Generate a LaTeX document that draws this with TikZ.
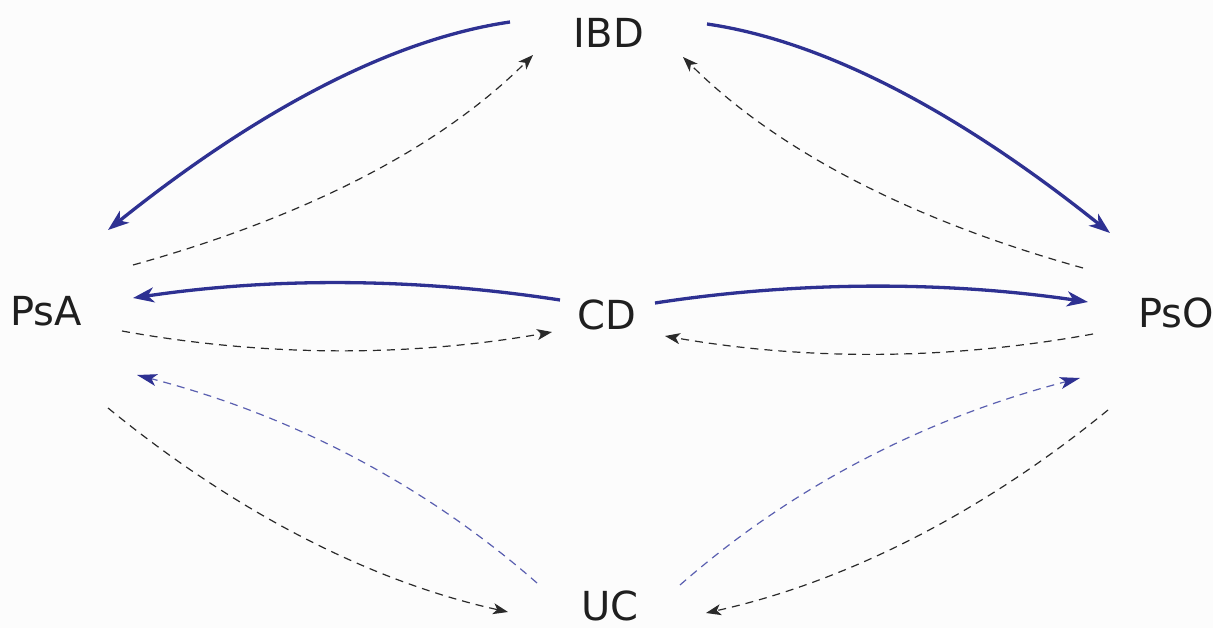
\documentclass[tikz,border=0pt]{standalone}
\usepackage{fontspec}
\setmainfont{DejaVu Sans}
\usetikzlibrary{arrows.meta}
\definecolor{navy}{HTML}{2E3192}
\definecolor{lightnavy}{HTML}{5A5FB0}
\definecolor{dgray}{HTML}{2A2A2A}
\definecolor{bg}{HTML}{FCFCFC}
\tikzset{
  lbl/.style={font=\fontsize{40}{48}\selectfont, text=black!88, inner sep=0pt},
  bluearr/.style={draw=navy, line width=3.3pt, -{Stealth[length=21pt, width=15pt, inset=6pt]}},
  dasharr/.style={draw=dgray, line width=1.2pt, dash pattern=on 8pt off 6pt, -{Stealth[length=15pt, width=11pt, inset=4pt]}},
  bluedash/.style={draw=lightnavy, line width=1.2pt, dash pattern=on 8pt off 6pt, -{Stealth[length=20pt, width=12pt, inset=5pt, color=navy]}},
}
\begin{document}
\begin{tikzpicture}[x=1pt, y=-1pt]
\fill[bg] (0,0) rectangle (1213,628);
\useasboundingbox (0,0) rectangle (1213,628);
\node[lbl] (IBD) at (609,33) {IBD};
\node[lbl] (PsA) at (46,311) {PsA};
\node[lbl] (CD)  at (607,315) {CD};
\node[lbl] (PsO) at (1176,313) {PsO};
\node[lbl] (UC)  at (610,606) {UC};
% solid blue
\draw[bluearr] ([shift={(-99,-11)}]IBD.center) .. controls +(-117,17) and +(151,-121) .. ([shift={(62,-81)}]PsA.center);
\draw[bluearr] ([shift={(98,-9)}]IBD.center) .. controls +(117,17) and +(-151,-121) .. ([shift={(-66,-80)}]PsO.center);
\draw[bluearr] ([shift={(-47,-15)}]CD.center) .. controls +(-143,-22) and +(142,-21) .. ([shift={(87,-13)}]PsA.center);
\draw[bluearr] ([shift={(48,-12)}]CD.center) .. controls +(143,-22) and +(-142,-21) .. ([shift={(-88,-11)}]PsO.center);
% dashed black
\draw[dasharr] ([shift={(87,-46)}]PsA.center) .. controls +(176,-49) and +(-91,91) .. ([shift={(-76,22)}]IBD.center);
\draw[dasharr] ([shift={(-93,-45)}]PsO.center) .. controls +(-176,-49) and +(91,91) .. ([shift={(74,24)}]IBD.center);
\draw[dasharr] ([shift={(76,20)}]PsA.center) .. controls +(143,26) and +(-143,25) .. ([shift={(-55,17)}]CD.center);
\draw[dasharr] ([shift={(-83,21)}]PsO.center) .. controls +(-143,26) and +(143,25) .. ([shift={(58,21)}]CD.center);
\draw[dasharr] ([shift={(62,97)}]PsA.center) .. controls +(131,107) and +(-135,-30) .. ([shift={(-102,6)}]UC.center);
\draw[dasharr] ([shift={(-68,97)}]PsO.center) .. controls +(-131,107) and +(135,-30) .. ([shift={(96,7)}]UC.center);
% dashed blue
\draw[bluedash] ([shift={(-73,-23)}]UC.center) .. controls +(-113,-99) and +(154,40) .. ([shift={(91,64)}]PsA.center);
\draw[bluedash] ([shift={(70,-21)}]UC.center) .. controls +(113,-99) and +(-154,40) .. ([shift={(-96,65)}]PsO.center);
\end{tikzpicture}
\end{document}
